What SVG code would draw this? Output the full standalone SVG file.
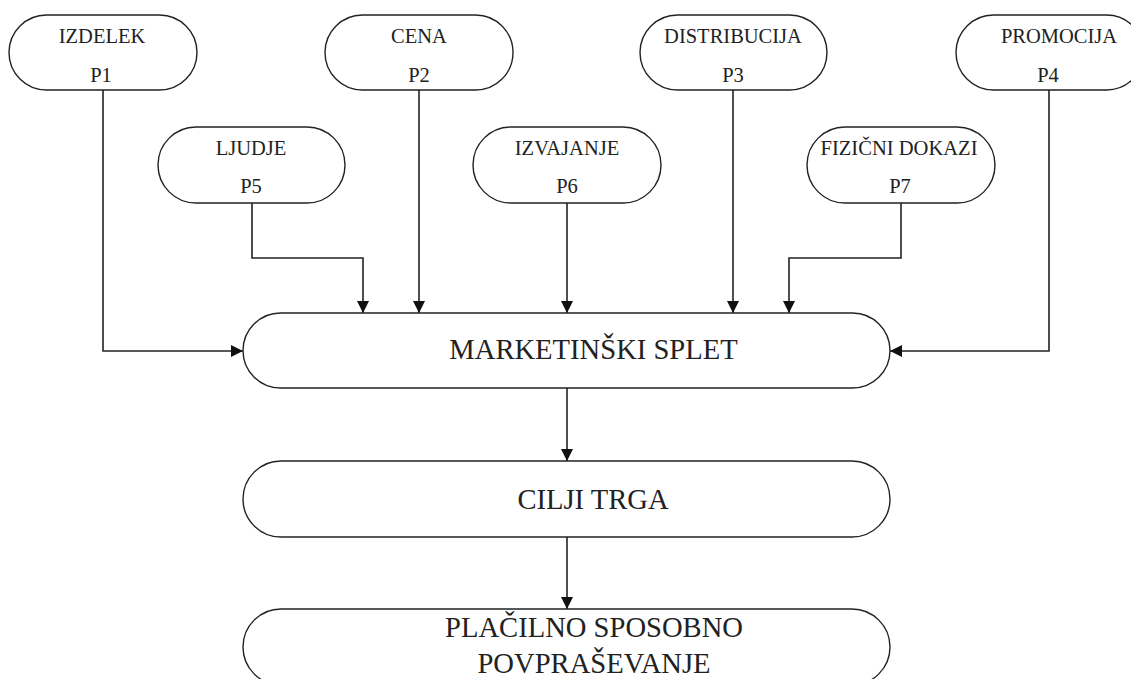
<svg xmlns="http://www.w3.org/2000/svg" width="1131" height="679" viewBox="0 0 1131 679">
<style>
.box{fill:#fff;stroke:#222;stroke-width:1.4}
.t{font-family:"Liberation Serif","Times New Roman",serif;fill:#222;text-anchor:middle}
.s{font-size:20.5px}
.b{font-size:28.6px}
.c{fill:none;stroke:#222;stroke-width:1.6}
</style>
<defs>
<marker id="ah" viewBox="0 0 12 12" refX="12" refY="6" markerWidth="12" markerHeight="12" markerUnits="userSpaceOnUse" orient="auto">
<path d="M0,0 L12,6 L0,12 z" fill="#111"/>
</marker>
</defs>
<rect width="1131" height="679" fill="#fff"/>
<g id="connectors">
<path class="c" d="M103,90 V351 H243" marker-end="url(#ah)"/>
<path class="c" d="M419,90 V313" marker-end="url(#ah)"/>
<path class="c" d="M733,90 V313" marker-end="url(#ah)"/>
<path class="c" d="M1049,90 V351 H890" marker-end="url(#ah)"/>
<path class="c" d="M252,203 V258 H363 V313" marker-end="url(#ah)"/>
<path class="c" d="M567,203 V313" marker-end="url(#ah)"/>
<path class="c" d="M901,203 V258 H789 V313" marker-end="url(#ah)"/>
<path class="c" d="M567,388 V461" marker-end="url(#ah)"/>
<path class="c" d="M567,537 V609" marker-end="url(#ah)"/>
</g>
<g id="izdelek">
<rect class="box" x="9" y="15" width="188" height="75" rx="37.5"/>
<text class="t s" x="102" y="43.3">IZDELEK</text>
<text class="t s" x="101" y="81.7">P1</text>
</g>
<g id="cena">
<rect class="box" x="325" y="15" width="188" height="75" rx="37.5"/>
<text class="t s" x="419" y="43.3">CENA</text>
<text class="t s" x="419" y="81.7">P2</text>
</g>
<g id="distribucija">
<rect class="box" x="640" y="15" width="187" height="75" rx="37.5"/>
<text class="t s" x="733" y="43.3">DISTRIBUCIJA</text>
<text class="t s" x="733" y="81.7">P3</text>
</g>
<g id="promocija">
<rect class="box" x="956" y="15" width="188" height="75" rx="37.5"/>
<text class="t s" x="1059" y="43.3">PROMOCIJA</text>
<text class="t s" x="1048" y="81.7">P4</text>
</g>
<g id="ljudje">
<rect class="box" x="158" y="127" width="187" height="76" rx="38"/>
<text class="t s" x="251" y="155">LJUDJE</text>
<text class="t s" x="251" y="193.3">P5</text>
</g>
<g id="izvajanje">
<rect class="box" x="473" y="127" width="188" height="76" rx="38"/>
<text class="t s" x="567" y="155">IZVAJANJE</text>
<text class="t s" x="567" y="193.3">P6</text>
</g>
<g id="fizicni-dokazi">
<rect class="box" x="807" y="127" width="188" height="76" rx="38"/>
<text class="t s" x="899" y="155" textLength="157" lengthAdjust="spacingAndGlyphs">FIZIČNI DOKAZI</text>
<text class="t s" x="900" y="193.3">P7</text>
</g>
<g id="marketinski-splet">
<rect class="box" x="243" y="313" width="647" height="75" rx="37.5"/>
<text class="t b" x="593.5" y="359.3">MARKETINŠKI SPLET</text>
</g>
<g id="cilji-trga">
<rect class="box" x="243" y="461" width="647" height="76" rx="38"/>
<text class="t b" x="593" y="509.3">CILJI TRGA</text>
</g>
<g id="placilno">
<rect class="box" x="243" y="609" width="647" height="76" rx="38"/>
<text class="t b" x="594" y="636.7">PLAČILNO SPOSOBNO</text>
<text class="t b" x="594" y="673.3">POVPRAŠEVANJE</text>
</g>
</svg>
